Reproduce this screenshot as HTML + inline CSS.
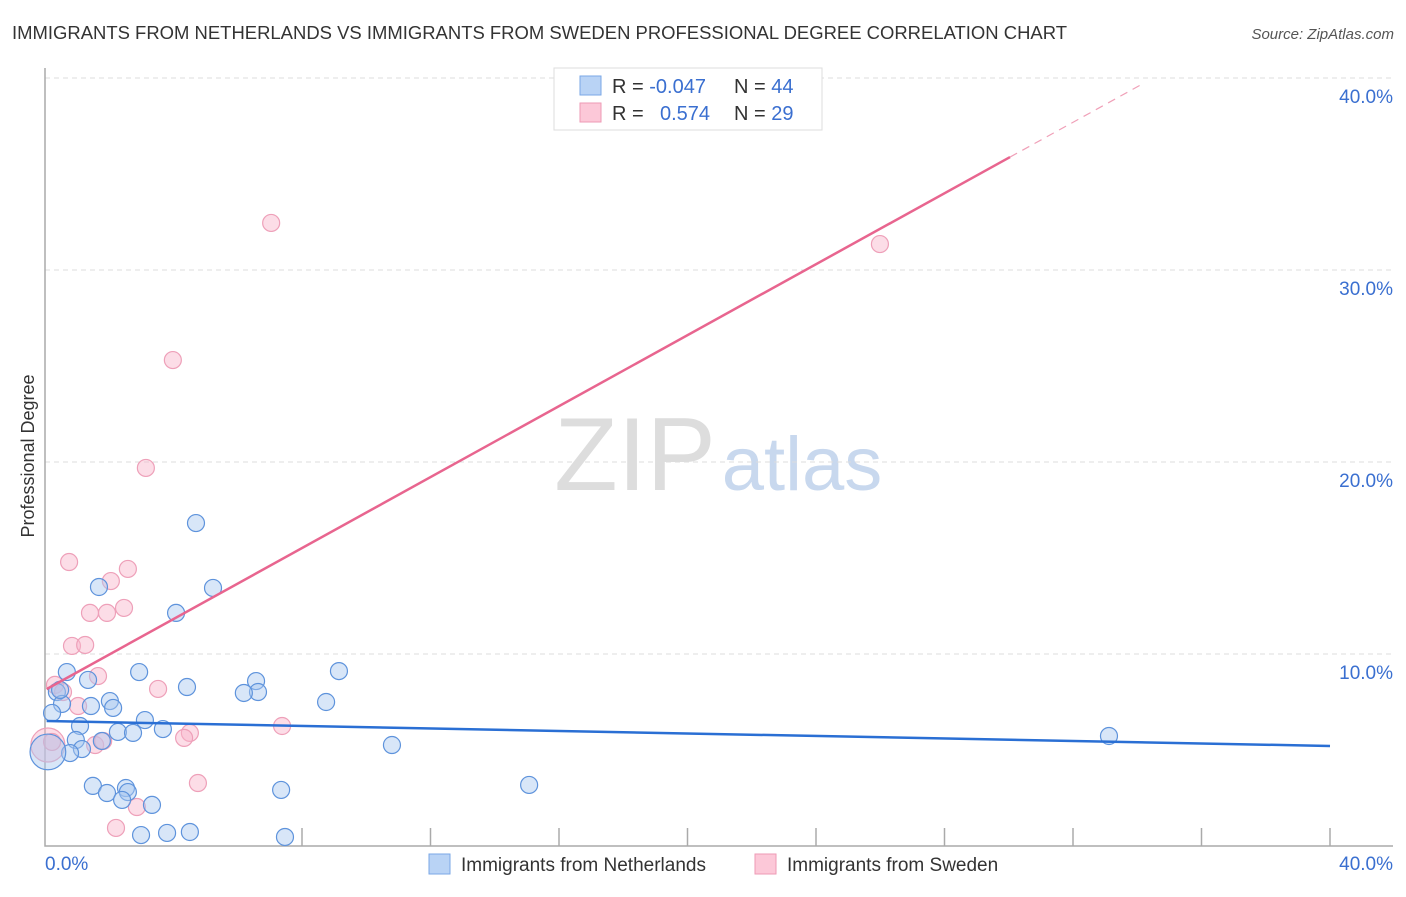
<!DOCTYPE html>
<html><head><meta charset="utf-8"><style>
body{margin:0;background:#fff;font-family:"Liberation Sans",sans-serif;}
svg text{font-family:"Liberation Sans",sans-serif;}
</style></head><body>
<svg id="chart" width="1406" height="892">
<text x="12" y="39" font-size="18" fill="#333" textLength="1055" lengthAdjust="spacingAndGlyphs">IMMIGRANTS FROM NETHERLANDS VS IMMIGRANTS FROM SWEDEN PROFESSIONAL DEGREE CORRELATION CHART</text>
<text x="1394" y="39" font-size="15" fill="#555" font-style="italic" text-anchor="end">Source: ZipAtlas.com</text>
<text transform="translate(34,456) rotate(-90)" font-size="18" fill="#333" text-anchor="middle">Professional Degree</text>
<g>
<text x="635" y="490" font-size="104" fill="#ddd" font-family="Liberation Serif" text-anchor="middle">ZIP</text>
<text x="802" y="490" font-size="76" fill="#c8d8ee" text-anchor="middle">atlas</text>
</g>
<g id="grid"></g>
<g id="marks"></g>
<g id="lines"></g>
<g>
<rect x="554" y="68" width="268" height="62" fill="#fff" stroke="#ddd"/>
<rect x="580" y="76" width="21" height="19" fill="#b9d3f5" stroke="#7aa7e6"/>
<rect x="580" y="103" width="21" height="19" fill="#fcc8d8" stroke="#ee9ab5"/>
<text x="612" y="93" font-size="20" fill="#333">R = <tspan fill="#3a6fd0">-0.047</tspan></text>
<text x="734" y="93" font-size="20" fill="#333">N = <tspan fill="#3a6fd0">44</tspan></text>
<text x="612" y="120" font-size="20" fill="#333">R = </text>
<text x="660" y="120" font-size="20" fill="#3a6fd0">0.574</text>
<text x="734" y="120" font-size="20" fill="#333">N = <tspan fill="#3a6fd0">29</tspan></text>
</g>
<g>
<rect x="429" y="854" width="21" height="20" fill="#b9d3f5" stroke="#7aa7e6"/>
<text x="461" y="871" font-size="19" fill="#333">Immigrants from Netherlands</text>
<rect x="755" y="854" width="21" height="20" fill="#fcc8d8" stroke="#ee9ab5"/>
<text x="787" y="871" font-size="19" fill="#333">Immigrants from Sweden</text>
</g>
</svg>
<script>
const yTicks=[10,20,30,40];
const yTickLabels=["10.0%","20.0%","30.0%","40.0%"];
const xTicks=[8,12,16,20,24,28,32,36,40];
const blueX=[0.68,1.68,4.70,5.23,4.08,2.93,9.15,4.42,6.57,6.63,6.19,8.75,2.02,2.12,1.43,1.34,0.37,0.53,0.22,3.11,2.27,2.74,3.67,1.09,0.96,1.77,1.15,0.78,0.09,10.80,33.12,1.49,1.93,2.52,2.58,2.40,3.33,7.35,15.07,2.99,3.80,4.51,7.47,0.47];
const blueY=[9.06,13.49,16.82,13.44,12.14,9.06,9.11,8.28,8.59,8.02,7.97,7.50,7.55,7.19,7.29,8.65,8.02,7.40,6.93,6.56,5.94,5.89,6.09,6.25,5.52,5.47,5.05,4.84,4.90,5.26,5.73,3.13,2.76,3.02,2.81,2.40,2.14,2.92,3.18,0.57,0.68,0.73,0.47,8.13];
const blueSize=[1,1,1,1,1,1,1,1,1,1,1,1,1,1,1,1,1,1,1,1,1,1,1,1,1,1,1,1,2.1,1,1,1,1,1,1,1,1,1,1,1,1,1,1,1];
const pinkX=[7.04,25.99,3.98,3.14,0.75,2.05,2.58,2.46,1.93,1.40,0.84,1.25,1.65,3.52,0.31,0.56,1.03,7.38,4.51,4.33,1.56,1.81,0.09,4.76,2.21,2.86,0.22];
const pinkY=[32.45,31.35,25.31,19.69,14.79,13.80,14.43,12.40,12.14,12.14,10.42,10.47,8.85,8.18,8.39,8.02,7.29,6.25,5.89,5.63,5.26,5.47,5.26,3.28,0.94,2.03,5.42];
const pinkSize=[1,1,1,1,1,1,1,1,1,1,1,1,1,1,1,1,1,1,1,1,1,1,2,1,1,1,1];
const blueTrend=[6.51,5.21];
const pinkTrend=[8.125,0.924,30.04,34.1];
const NS="http://www.w3.org/2000/svg";
const xs=v=>45+v*32.125, ys=v=>846-v*19.2;
function mk(t,a,p){const e=document.createElementNS(NS,t);for(const k in a)e.setAttribute(k,a[k]);p.appendChild(e);return e;}
const grid=document.getElementById('grid');
yTicks.forEach((t,i)=>{
 const l=mk('line',{x1:45,x2:1393,y1:ys(t),y2:ys(t),stroke:'#ddd','stroke-dasharray':'5,4'},grid);
 
 
 const tx=mk('text',{x:1393,y:ys(t)+25,'font-size':19,fill:'#3a6fd0','text-anchor':'end'},grid);
 tx.textContent=yTickLabels[i];
 
 
});
const ax=mk('path',{d:'M45,68V846H1393',fill:'none',stroke:'#aaa','stroke-width':1.5},grid);


xTicks.forEach(t=>{
 const l=mk('line',{x1:xs(t),x2:xs(t),y1:828,y2:846,stroke:'#aaa','stroke-width':1.5},grid);
 
 
});
const x0=mk('text',{x:45,y:870,'font-size':19,fill:'#3a6fd0'},grid);x0.textContent='0.0%';


const x1=mk('text',{x:1393,y:870,'font-size':19,fill:'#3a6fd0','text-anchor':'end'},grid);x1.textContent='40.0%';


const marks=document.getElementById('marks');
pinkX.forEach((v,i)=>{
 const c=mk('circle',{cx:xs(v),cy:ys(pinkY[i]),r:8.5*pinkSize[i],fill:'rgba(248,180,202,0.45)',stroke:'#eea0b9','stroke-width':1.2},marks);
 
 
});
blueX.forEach((v,i)=>{
 const c=mk('circle',{cx:xs(v),cy:ys(blueY[i]),r:8.5*blueSize[i],fill:'rgba(168,200,240,0.45)',stroke:'#5e93dc','stroke-width':1.2},marks);
 
 
});
const lines=document.getElementById('lines');
const bl=mk('line',{x1:xs(0.05),y1:ys(blueTrend[0]),x2:xs(40),y2:ys(blueTrend[1]),stroke:'#2a6fd4','stroke-width':2.5},lines);


const pf=x=>pinkTrend[0]+pinkTrend[1]*x;
const pl=mk('line',{x1:xs(0.05),y1:ys(pf(0.05)),x2:xs(pinkTrend[2]),y2:ys(pf(pinkTrend[2])),stroke:'#e8658f','stroke-width':2.5},lines);


const pd=mk('line',{x1:xs(pinkTrend[2]),y1:ys(pf(pinkTrend[2])),x2:xs(pinkTrend[3]),y2:ys(pf(pinkTrend[3])),stroke:'#f0a0b8','stroke-width':1.2,'stroke-dasharray':'8,6'},lines);


</script>
</body></html>
